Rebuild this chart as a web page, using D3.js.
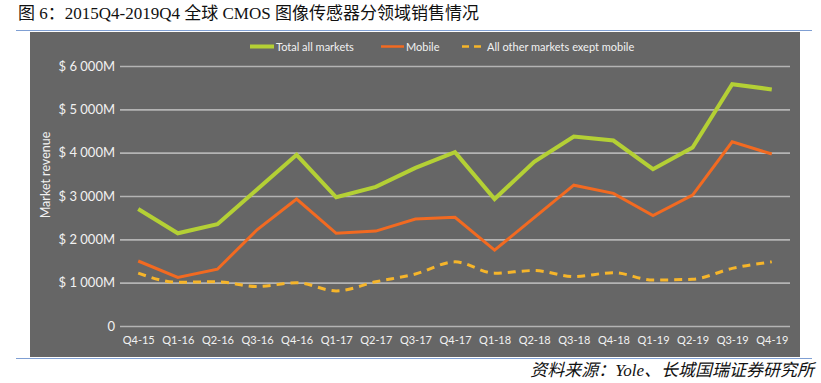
<!DOCTYPE html>
<meta charset="utf-8">
<html>
<head>
<title>CMOS image sensor revenue</title>
<style>
  body { margin: 0; background: #fff; }
  .ttl { font-family: "Liberation Serif", "Noto Sans CJK SC", serif; font-size: 17px; fill: #111; }
  .src { font-family: "Liberation Serif", "Noto Sans CJK SC", serif; font-size: 17px; font-style: italic; fill: #111; }
  .lbl { font-family: Lato, "Open Sans", sans-serif; fill: #f2f2f2; }
</style>
<script src="https://cdn.jsdelivr.net/npm/d3@7"></script>
</head>
<body>
<script>

    var width = 821, height = 383;

    // quarters and values ($M)
    var quarters = ["Q4-15","Q1-16","Q2-16","Q3-16","Q4-16","Q1-17","Q2-17","Q3-17","Q4-17",
                    "Q1-18","Q2-18","Q3-18","Q4-18","Q1-19","Q2-19","Q3-19","Q4-19"];
    var total  = [2700,2140,2350,3150,3950,2970,3210,3650,4010,2930,3790,4370,4280,3620,4120,5580,5460];
    var mobile = [1500,1120,1310,2220,2930,2140,2190,2470,2510,1750,2500,3250,3060,2550,3020,4250,3970];
    var others = [1220,1010,1020, 910,1000, 810,1020,1200,1480,1220,1280,1140,1230,1060,1080,1330,1480];
    var yTicks = [0,1000,2000,3000,4000,5000,6000];
    var yTickLabels = ["0","$ 1 000M","$ 2 000M","$ 3 000M","$ 4 000M","$ 5 000M","$ 6 000M"];

    var svg = d3.select("body").append("svg")
        .attr("width", width)
        .attr("height", height);

    // title and rules
    svg.append("text").attr("class", "ttl")
        .attr("x", 18).attr("y", 19)
        .text("图 6：2015Q4-2019Q4 全球 CMOS 图像传感器分领域销售情况");
    svg.append("line").attr("x1", 16).attr("x2", 812).attr("y1", 30.5).attr("y2", 30.5)
        .style("stroke", "#7f9fd3").style("stroke-width", 1.2);
    svg.append("line").attr("x1", 16).attr("x2", 812).attr("y1", 358.5).attr("y2", 358.5)
        .style("stroke", "#7f9fd3").style("stroke-width", 1.2);
    svg.append("text").attr("class", "src")
        .attr("x", 814).attr("y", 376).attr("text-anchor", "end")
        .text("资料来源：Yole、长城国瑞证券研究所");

    // grey panel
    svg.append("rect").attr("x", 30).attr("y", 32).attr("width", 770).attr("height", 325)
        .style("fill", "#666666");

    var x = d3.scalePoint().domain(quarters).range([120, 790]).padding(0.46);
    var y = d3.scaleLinear().domain([0, 6000]).range([326, 66]);

    // y grid + labels
    var yAxis = svg.append("g")
        .attr("transform", "translate(120,0)")
        .call(d3.axisLeft(y).tickValues(yTicks).tickSize(-670).tickPadding(6)
              .tickFormat(function(d, i) { return yTickLabels[i]; }));
    yAxis.select(".domain").remove();
    yAxis.selectAll(".tick line").style("stroke", "#b4b4b4").style("stroke-width", 1.6);
    yAxis.selectAll(".tick text").attr("class", "lbl").style("font-size", "13px")
        .attr("fill", "#f2f2f2").attr("x", -5);

    // x labels
    var xAxis = svg.append("g")
        .attr("transform", "translate(0,326)")
        .call(d3.axisBottom(x).tickSize(0).tickPadding(10));
    xAxis.select(".domain").remove();
    xAxis.selectAll(".tick text").attr("class", "lbl").style("font-size", "11px").attr("fill", "#f2f2f2");

    svg.append("text").attr("class", "lbl")
        .attr("transform", "translate(50,175) rotate(-90)")
        .attr("text-anchor", "middle")
        .style("font-size", "12.5px")
        .text("Market revenue");

    var series = [
        { name: "Total all markets", values: total, color: "#b4d035", w: 4, dash: null, curve: d3.curveLinear },
        { name: "Mobile", values: mobile, color: "#f26a21", w: 3, dash: null, curve: d3.curveLinear },
        { name: "All other markets exept mobile", values: others, color: "#f6b52a", w: 3, dash: "8,6", curve: d3.curveMonotoneX }
    ];

    series.forEach(function(s) {
        var line = d3.line()
            .x(function(d, i) { return x(quarters[i]); })
            .y(function(d) { return y(d); })
            .curve(s.curve);
        svg.append("path")
            .datum(s.values)
            .attr("d", line)
            .style("fill", "none")
            .style("stroke", s.color)
            .style("stroke-width", s.w)
            .style("stroke-dasharray", s.dash)
            .style("stroke-linejoin", "miter");
    });

    // legend
    var legendPos = [[250, 276], [381, 406], [462, 487]];
    series.forEach(function(s, i) {
        var p = legendPos[i];
        svg.append("line")
            .attr("x1", p[0]).attr("x2", p[1] - 2).attr("y1", 46.5).attr("y2", 46.5)
            .style("stroke", s.color)
            .style("stroke-width", i == 0 ? 4 : 2.5)
            .style("stroke-dasharray", s.dash ? "7,5" : null);
        svg.append("text").attr("class", "lbl")
            .attr("x", p[1]).attr("y", 50.5)
            .style("font-size", "11px")
            .text(s.name);
    });

</script>
</body>
</html>
